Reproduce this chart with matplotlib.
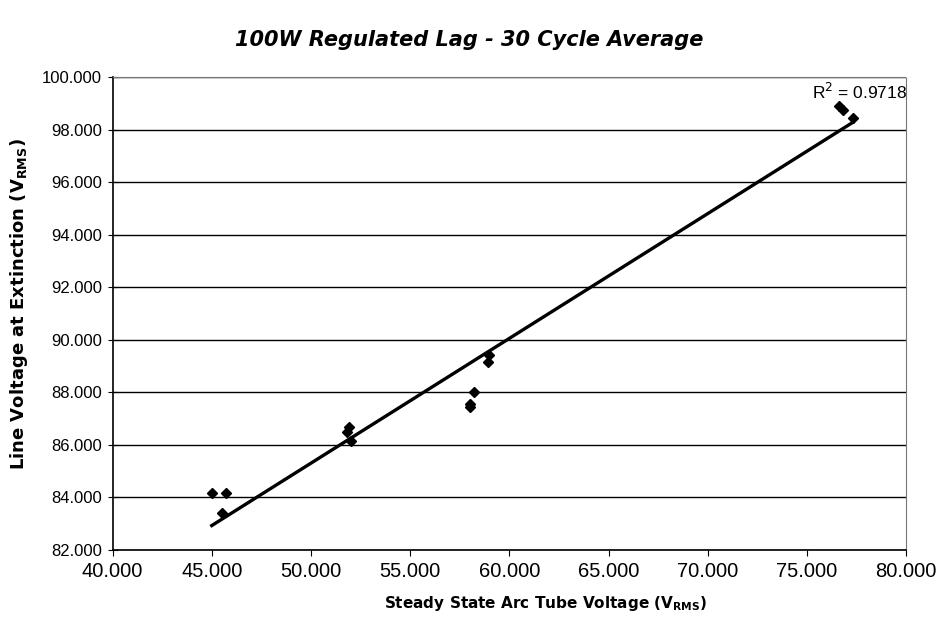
import numpy as np
import matplotlib
matplotlib.use("Agg")
import matplotlib.pyplot as plt
from matplotlib.ticker import FormatStrFormatter, MultipleLocator

plt.rcParams['font.family'] = ['Liberation Sans', 'DejaVu Sans']
plt.rcParams['mathtext.fontset'] = 'custom'
plt.rcParams['mathtext.rm'] = 'DejaVu Sans'
plt.rcParams['mathtext.bf'] = 'DejaVu Sans:bold'

# steady state arc tube voltage vs line voltage at extinction
arc_v = [45.0, 45.7, 45.5, 51.8, 51.9, 52.0, 58.0, 58.0, 58.2, 58.9, 59.0, 76.6, 76.8, 77.3]
line_v = [84.15, 84.15, 83.42, 86.49, 86.68, 86.15, 87.44, 87.55, 88.02, 89.15, 89.42, 98.9, 98.76, 98.44]
r2_text = "R$^2$ = 0.9718"

x = np.array(arc_v)
y = np.array(line_v)
slope, intercept = np.polyfit(x, y, 1)
xfit = np.array([x.min(), x.max()])

fig = plt.figure(figsize=(9.38, 6.17), dpi=100)
ax = fig.add_axes([0.12, 0.1086, 0.846, 0.7666])

ax.plot(xfit, slope * xfit + intercept, color='black', lw=2.4, zorder=3)
ax.plot(x, y, 'D', color='black', markersize=5.5, zorder=4)

ax.set_xlim(40, 80)
ax.set_ylim(82, 100)
ax.xaxis.set_major_locator(MultipleLocator(5))
ax.yaxis.set_major_locator(MultipleLocator(2))
ax.xaxis.set_major_formatter(FormatStrFormatter('%.3f'))
ax.yaxis.set_major_formatter(FormatStrFormatter('%.3f'))
ax.tick_params(axis='x', direction='out', length=4, labelsize=14.5, pad=5)
ax.tick_params(axis='y', direction='inout', length=7, labelsize=12, pad=4)

ax.grid(axis='y', color='black', lw=1.0)
ax.set_axisbelow(True)
for s in ['top', 'right']:
    ax.spines[s].set_color('#777777')
    ax.spines[s].set_linewidth(0.8)
    ax.spines[s].set_linestyle((0, (2, 1)))
ax.spines['left'].set_linewidth(1.2)
ax.spines['bottom'].set_linewidth(1.2)

ax.text(77.65, 99.45, r2_text, ha='center', va='center', fontsize=12.5)

fig.text(0.5, 0.935, "100W Regulated Lag - 30 Cycle Average", ha='center', va='center',
         fontsize=15, fontweight='bold', fontstyle='italic', family='DejaVu Sans')
ax.set_xlabel(r"Steady State Arc Tube Voltage (V$_{\mathbf{RMS}}$)", fontsize=11,
              fontweight='bold', family='DejaVu Sans')
ax.xaxis.set_label_coords(0.546, -0.093)
ax.set_ylabel(r"Line Voltage at Extinction (V$_{\mathbf{RMS}}$)", fontsize=13,
              fontweight='bold', family='DejaVu Sans')
ax.yaxis.set_label_coords(-0.104, 0.52)

fig.savefig("out.png", dpi=100, facecolor='white')
